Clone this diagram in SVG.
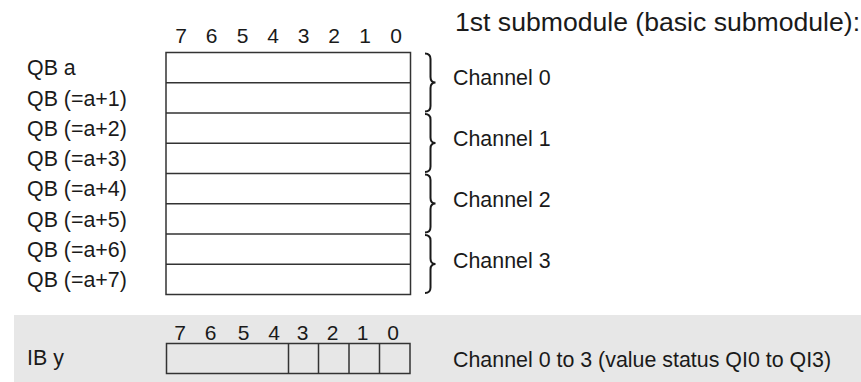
<svg xmlns="http://www.w3.org/2000/svg" width="861" height="382" viewBox="0 0 861 382">
<style>
text{font-family:"Liberation Sans",Arial,sans-serif;fill:#1a1a1a}
.lbl{font-size:21.4px}
.dig{font-size:21px;text-anchor:middle}
.title{font-size:26.6px}
.box{fill:none;stroke:#333;stroke-width:1.5}
.cell{fill:#fff;stroke:#333;stroke-width:1.5}
.brace{fill:none;stroke:#1a1a1a;stroke-width:2}
</style>
<rect x="14" y="315" width="847" height="67" fill="#e7e7e7"/>
<g id="title"><text class="title" x="455" y="30.5">1st submodule (basic submodule):</text></g>
<g id="bits-top">
<text class="dig" x="181" y="43">7</text><text class="dig" x="211.5" y="43">6</text><text class="dig" x="242.5" y="43">5</text><text class="dig" x="273" y="43">4</text><text class="dig" x="303.5" y="43">3</text><text class="dig" x="334" y="43">2</text><text class="dig" x="365" y="43">1</text><text class="dig" x="396" y="43">0</text>
</g>
<g id="qb-table">
<rect class="cell" x="166" y="52.5" width="244.5" height="242"/>
<path class="box" d="M166 82.75H410.5M166 113H410.5M166 143.25H410.5M166 173.5H410.5M166 203.75H410.5M166 234H410.5M166 264.25H410.5"/>
</g>
<g id="qb-labels">
<text class="lbl" x="27" y="75">QB a</text>
<text class="lbl" x="27" y="105.5">QB (=a+1)</text>
<text class="lbl" x="27" y="135.5">QB (=a+2)</text>
<text class="lbl" x="27" y="166">QB (=a+3)</text>
<text class="lbl" x="27" y="196">QB (=a+4)</text>
<text class="lbl" x="27" y="226.5">QB (=a+5)</text>
<text class="lbl" x="27" y="256.5">QB (=a+6)</text>
<text class="lbl" x="27" y="287">QB (=a+7)</text>
</g>
<g id="connectors">
<path class="brace" d="M425 53.5Q430.5 53.5 430.5 59V77Q430.5 82.5 435.5 82.5Q430.5 82.5 430.5 88V106Q430.5 111.5 425 111.5"/>
<path class="brace" d="M425 114Q430.5 114 430.5 119.5V137.5Q430.5 143 435.5 143Q430.5 143 430.5 148.5V166.5Q430.5 172 425 172"/>
<path class="brace" d="M425 174.5Q430.5 174.5 430.5 180V198Q430.5 203.5 435.5 203.5Q430.5 203.5 430.5 209V227Q430.5 232.5 425 232.5"/>
<path class="brace" d="M425 235Q430.5 235 430.5 240.5V258.5Q430.5 264 435.5 264Q430.5 264 430.5 269.5V287.5Q430.5 293 425 293"/>
</g>
<g id="channel0"><text class="lbl" x="453" y="85">Channel 0</text></g>
<g id="channel1"><text class="lbl" x="453" y="146">Channel 1</text></g>
<g id="channel2"><text class="lbl" x="453" y="206.5">Channel 2</text></g>
<g id="channel3"><text class="lbl" x="453" y="267.5">Channel 3</text></g>
<g id="bits-bottom">
<text class="dig" x="180" y="339.5">7</text><text class="dig" x="210.5" y="339.5">6</text><text class="dig" x="243.5" y="339.5">5</text><text class="dig" x="274" y="339.5">4</text><text class="dig" x="302.5" y="339.5">3</text><text class="dig" x="332.5" y="339.5">2</text><text class="dig" x="362.5" y="339.5">1</text><text class="dig" x="393" y="339.5">0</text>
</g>
<g id="ib-y">
<text class="lbl" x="27" y="364.5">IB y</text>
<rect class="box" x="166.5" y="343.5" width="243.5" height="30"/>
<path class="box" d="M288.5 343.5V373.5M318.5 343.5V373.5M349 343.5V373.5M379.5 343.5V373.5"/>
</g>
<g id="ib-desc"><text class="lbl" x="453" y="366.5">Channel 0 to 3 (value status QI0 to QI3)</text></g>
</svg>
